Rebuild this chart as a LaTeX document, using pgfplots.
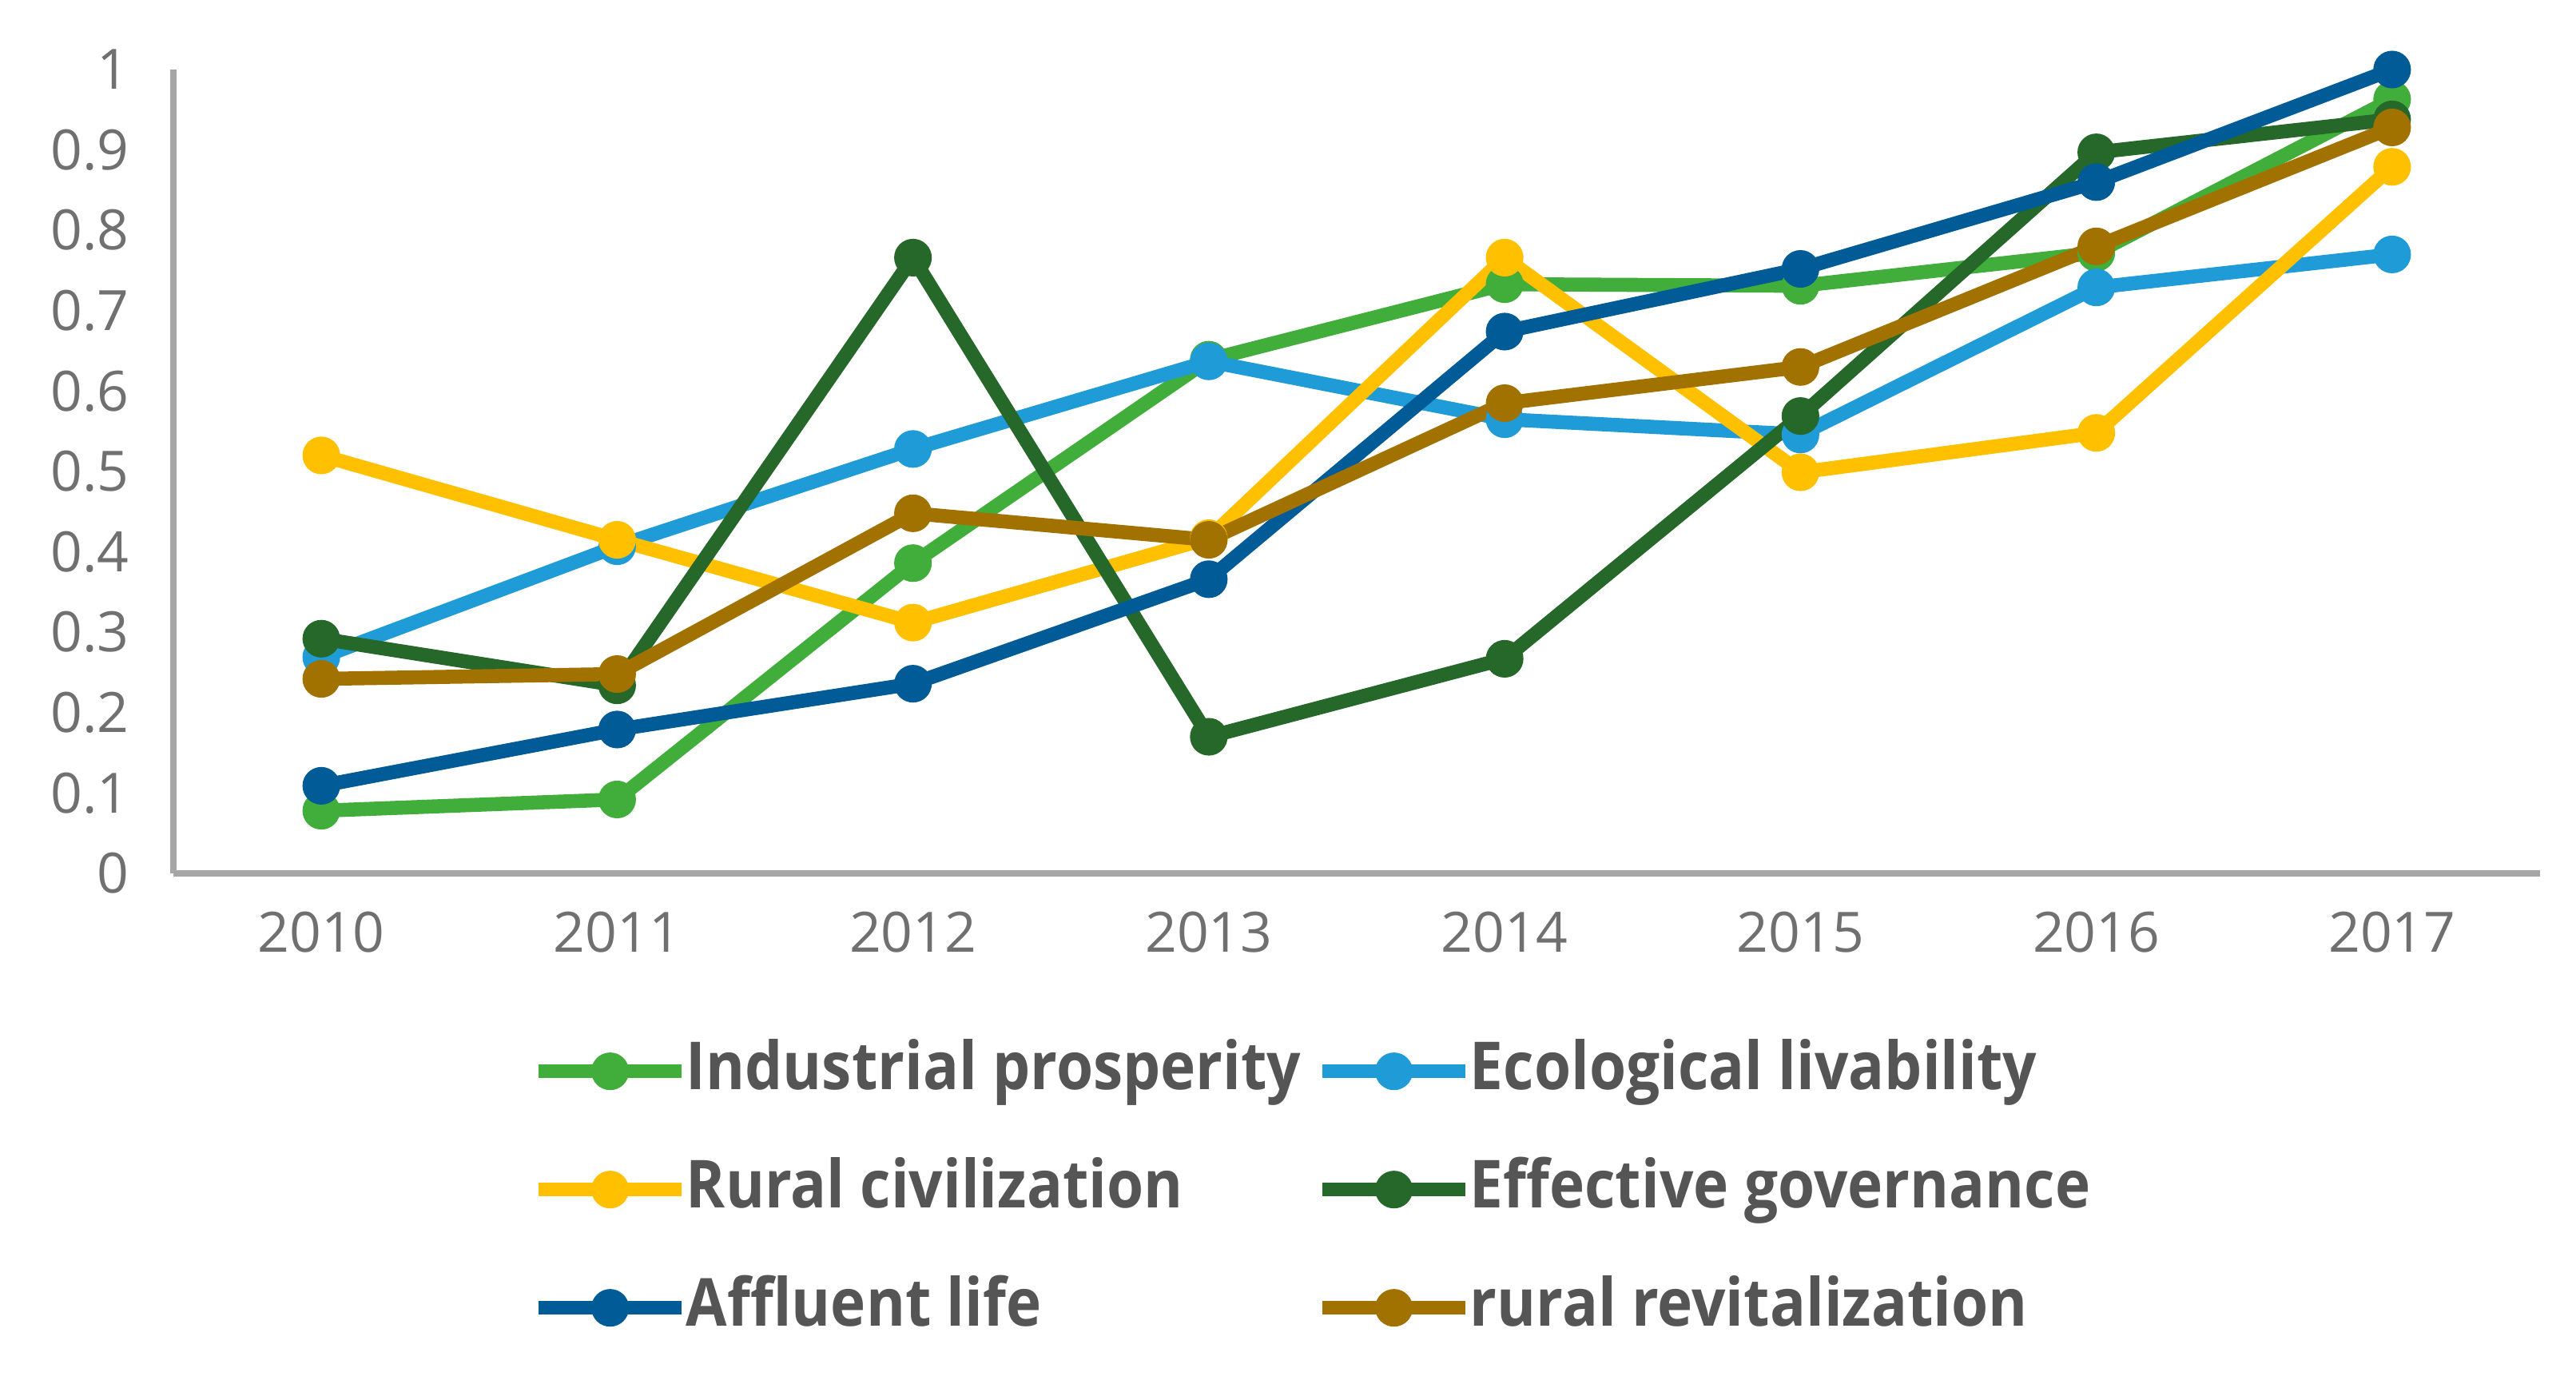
\documentclass[border=0pt]{standalone}
\usepackage{pgfplots}
\pgfplotsset{compat=1.18}
\usepackage{fontspec}
\setmainfont{Open Sans}
\newfontfamily\legfont[FakeStretch=0.90]{Open Sans}
\definecolor{cIP}{HTML}{41AE3C}
\definecolor{cEL}{HTML}{1F9BD7}
\definecolor{cRC}{HTML}{FFC000}
\definecolor{cEG}{HTML}{26682A}
\definecolor{cAL}{HTML}{005B96}
\definecolor{cRR}{HTML}{A27200}
\definecolor{axisgray}{HTML}{A6A6A6}
\definecolor{ticktext}{HTML}{707070}
\definecolor{legtext}{HTML}{555555}
\begin{document}
\begin{tikzpicture}
\begin{axis}[
  name=ax,
  scale only axis, width=14.81cm, height=5.03cm,
  xmin=-0.5, xmax=7.5, ymin=0, ymax=1,
  axis lines=left, axis line style={-, draw=axisgray, line width=1.1pt},
  xtick={0,1,2,3,4,5,6,7},
  xticklabels={2010,2011,2012,2013,2014,2015,2016,2017},
  ytick={0,0.1,0.2,0.3,0.4,0.5,0.6,0.7,0.8,0.9,1},
  yticklabels={0,0.1,0.2,0.3,0.4,0.5,0.6,0.7,0.8,0.9,1},
  major tick length=0pt, tick style={draw=none},
  /pgf/number format/assume math mode=true,
  ticklabel style={font=\fontsize{9.9}{12}\selectfont, text=ticktext, inner sep=0pt},
  yticklabel style={anchor=east, xshift=-0.27cm},
  xticklabel style={anchor=north, yshift=-0.235cm},
  clip=false,
  every axis plot/.append style={line width=2.5pt, mark=*, mark size=3.1pt, mark options={solid, line width=0.5pt}},
  legend columns=2,
  legend style={
    at={(0.1509,-0.204)}, anchor=north west, draw=none, fill=none,
    inner sep=0pt, row sep=0.33cm,
    font=\legfont\bfseries\fontsize{11.8}{14}\selectfont, text=legtext,
    nodes={inner sep=0pt, text height=0.32cm, text depth=0.09cm},
    /tikz/every odd column/.append style={column sep=-0.015cm},
    /tikz/every even column/.append style={column sep=0.09cm},
  },
  legend cell align=left,
  legend image code/.code={\draw[mark repeat=2,mark phase=2,#1] plot coordinates {(0cm,0cm) (0.4475cm,0cm) (0.895cm,0cm)};},
]
\addplot[color=cIP] coordinates {(0,0.078) (1,0.092) (2,0.386) (3,0.639) (4,0.733) (5,0.731) (6,0.772) (7,0.963)};
\addlegendentry{Industrial prosperity}
\addplot[color=cEL] coordinates {(0,0.269) (1,0.407) (2,0.528) (3,0.637) (4,0.565) (5,0.546) (6,0.729) (7,0.770)};
\addlegendentry{Ecological livability}
\addplot[color=cRC] coordinates {(0,0.520) (1,0.415) (2,0.312) (3,0.417) (4,0.766) (5,0.499) (6,0.548) (7,0.879)};
\addlegendentry{Rural civilization}
\addplot[color=cEG] coordinates {(0,0.292) (1,0.234) (2,0.766) (3,0.170) (4,0.267) (5,0.569) (6,0.897) (7,0.938)};
\addlegendentry{Effective governance}
\addplot[color=cAL] coordinates {(0,0.109) (1,0.179) (2,0.236) (3,0.366) (4,0.674) (5,0.752) (6,0.860) (7,1.000)};
\addlegendentry{Affluent life}
\addplot[color=cRR] coordinates {(0,0.242) (1,0.248) (2,0.448) (3,0.415) (4,0.585) (5,0.630) (6,0.780) (7,0.928)};
\addlegendentry{rural revitalization}
\end{axis}
\pgfresetboundingbox
\path[use as bounding box] (-1.085,-3.24) rectangle (15.035,5.465);
\end{tikzpicture}
\end{document}
